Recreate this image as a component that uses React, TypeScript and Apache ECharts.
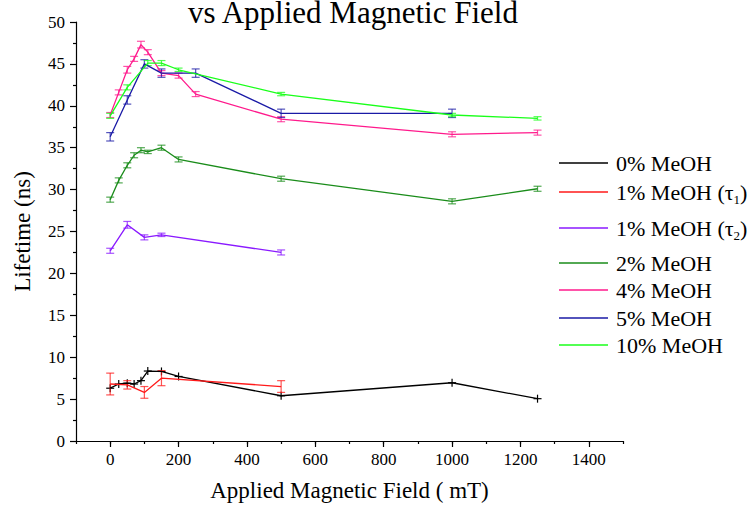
import React, { useEffect, useRef } from "react";
import * as echarts from "echarts";

const FONT = "Liberation Serif";

const seriesNames = ["0% MeOH", "1% MeOH (τ1)", "1% MeOH (τ2)", "2% MeOH", "4% MeOH", "5% MeOH", "10% MeOH"];
const colors = ["#000000", "#ff1a1a", "#8a1aff", "#1a8c1a", "#ff1a8c", "#1a1aa6", "#1aff1a"];

const x0 = [0, 25, 50, 70, 90, 110, 150, 200, 500, 1000, 1250];
const y0 = [6.3, 6.8, 6.9, 6.8, 7.2, 8.35, 8.3, 7.7, 5.4, 6.95, 5.05];

const x1 = [0, 50, 100, 150, 500];
const y1 = [6.8, 6.7, 5.8, 7.5, 6.5];
const e1 = [1.3, 0.5, 0.7, 0.9, 0.7];

const x1b = [0, 50, 100, 150, 500];
const y1b = [22.7, 25.8, 24.3, 24.6, 22.5];
const e1b = [0.3, 0.4, 0.3, 0.2, 0.3];

const x2 = [0, 25, 50, 70, 90, 110, 150, 200, 500, 1000, 1250];
const y2 = [28.8, 31.1, 32.9, 34.1, 34.7, 34.5, 35.0, 33.6, 31.3, 28.6, 30.1];
const e2 = [0.3, 0.3, 0.3, 0.3, 0.3, 0.2, 0.3, 0.3, 0.3, 0.3, 0.3];

const x4 = [0, 25, 50, 70, 90, 110, 150, 200, 250, 500, 1000, 1250];
const y4 = [38.9, 41.6, 44.3, 45.6, 47.3, 46.4, 43.9, 43.6, 41.4, 38.4, 36.6, 36.8];
const e4 = [0.3, 0.3, 0.4, 0.3, 0.4, 0.3, 0.3, 0.3, 0.3, 0.3, 0.3, 0.3];

const x5 = [0, 50, 100, 150, 250, 500, 1000];
const y5 = [36.3, 40.7, 45.0, 43.9, 43.9, 39.1, 39.1];
const e5 = [0.5, 0.5, 0.5, 0.5, 0.5, 0.5, 0.5];

const x10 = [0, 50, 110, 150, 200, 500, 1000, 1250];
const y10 = [38.8, 42.2, 45.1, 45.1, 44.3, 41.4, 38.9, 38.5];
const e10 = [0.3, 0.3, 0.3, 0.3, 0.2, 0.2, 0.2, 0.2];

const xMajorTicks = [0, 200, 400, 600, 800, 1000, 1200, 1400];
const legendRowsY = [163, 192, 228, 263, 290, 318, 345];

function pairs(xs: number[], ys: number[]) {
  return xs.map((x, i) => [x, ys[i]]);
}
function errData(xs: number[], ys: number[], es: number[]) {
  return xs.map((x, i) => [x, ys[i] - es[i], ys[i] + es[i]]);
}

function errorBarSeries(color: string, data: number[][]) {
  return {
    type: "custom",
    silent: true,
    data,
    renderItem: (params: any, api: any) => {
      const x = api.value(0);
      const p1 = api.coord([x, api.value(1)]);
      const p2 = api.coord([x, api.value(2)]);
      const w = 4;
      const style = { stroke: color, lineWidth: 1.2, opacity: 0.75 };
      return {
        type: "group",
        children: [
          { type: "line", shape: { x1: p1[0], y1: p1[1], x2: p2[0], y2: p2[1] }, style },
          { type: "line", shape: { x1: p1[0] - w, y1: p1[1], x2: p1[0] + w, y2: p1[1] }, style },
          { type: "line", shape: { x1: p2[0] - w, y1: p2[1], x2: p2[0] + w, y2: p2[1] }, style },
        ],
      };
    },
  };
}

function plusSeries(color: string, data: number[][]) {
  return {
    type: "custom",
    silent: true,
    data,
    renderItem: (params: any, api: any) => {
      const p = api.coord([api.value(0), api.value(1)]);
      const s = 4;
      const style = { stroke: color, lineWidth: 1.2 };
      return {
        type: "group",
        children: [
          { type: "line", shape: { x1: p[0] - s, y1: p[1], x2: p[0] + s, y2: p[1] }, style },
          { type: "line", shape: { x1: p[0], y1: p[1] - s, x2: p[0], y2: p[1] + s }, style },
        ],
      };
    },
  };
}

function lineSeries(name: string, color: string, data: number[][]) {
  return {
    name,
    type: "line",
    data,
    showSymbol: false,
    symbol: "none",
    lineStyle: { color, width: 1.3 },
    itemStyle: { color },
    z: 2,
  };
}

export default function App() {
  const ref = useRef<HTMLDivElement>(null);
  useEffect(() => {
    if (!ref.current) return;
    const chart = echarts.init(ref.current, null, { renderer: "svg" });

    const legendLabels = [
      "{a|0% MeOH}",
      "{a|1% MeOH (τ}{s|1}{a|)}",
      "{a|1% MeOH (τ}{s|2}{a|)}",
      "{a|2% MeOH}",
      "{a|4% MeOH}",
      "{a|5% MeOH}",
      "{a|10% MeOH}",
    ];

    const graphics: any[] = [
      {
        type: "text",
        x: 353,
        y: 28,
        style: {
          text: "vs Applied Magnetic Field",
          fontFamily: FONT,
          fontSize: 31,
          fill: "#000",
          textAlign: "center",
          textVerticalAlign: "bottom",
        },
      },
    ];
    legendLabels.forEach((lab, i) => {
      const y = legendRowsY[i];
      graphics.push({
        type: "line",
        shape: { x1: 559, y1: y, x2: 608, y2: y },
        style: { stroke: colors[i], lineWidth: 1.3 },
      });
      graphics.push({
        type: "text",
        x: 616,
        y: y,
        style: {
          text: lab,
          fill: "#000",
          textVerticalAlign: "middle",
          rich: {
            a: { fontFamily: FONT, fontSize: 22, color: "#000", lineHeight: 24 },
            s: { fontFamily: FONT, fontSize: 13, color: "#000", padding: [14, 0, 0, 0], lineHeight: 24 },
          },
        },
      });
    });

    const axisLineStyle = { color: "#000", width: 1.2 };

    const option: any = {
      animation: false,
      backgroundColor: "#ffffff",
      textStyle: { fontFamily: FONT },
      grid: { left: 76, right: 126, top: 22, bottom: 67, containLabel: false },
      xAxis: [
        {
          type: "value",
          min: -100,
          max: 1500,
          interval: 100,
          name: "Applied Magnetic Field ( mT)",
          nameLocation: "middle",
          nameGap: 38,
          nameTextStyle: { fontFamily: FONT, fontSize: 23, color: "#000" },
          axisLine: { show: true, onZero: false, lineStyle: axisLineStyle },
          axisTick: { show: true, length: 3, inside: false, lineStyle: axisLineStyle },
          axisLabel: {
            customValues: xMajorTicks,
            formatter: (v: number) => String(v),
            fontFamily: FONT,
            fontSize: 17,
            color: "#000",
            margin: 10,
          },
          splitLine: { show: false },
        },
        {
          type: "value",
          min: -100,
          max: 1500,
          position: "bottom",
          axisLine: { show: false },
          axisTick: { show: true, length: 6, customValues: xMajorTicks, lineStyle: axisLineStyle },
          axisLabel: { show: false },
          splitLine: { show: false },
        },
      ],
      yAxis: {
        type: "value",
        min: 0,
        max: 50,
        interval: 5,
        name: "Lifetime (ns)",
        nameLocation: "middle",
        nameGap: 42,
        nameTextStyle: { fontFamily: FONT, fontSize: 23, color: "#000" },
        axisLine: { show: true, onZero: false, lineStyle: axisLineStyle },
        axisTick: { show: true, length: 6, lineStyle: axisLineStyle },
        minorTick: { show: true, splitNumber: 2, length: 3, lineStyle: { color: "#000", width: 1.2 } },
        axisLabel: { fontFamily: FONT, fontSize: 17, color: "#000", margin: 11, formatter: (v: number) => String(v) },
        splitLine: { show: false },
        minorSplitLine: { show: false },
      },
      series: [
        lineSeries(seriesNames[0], colors[0], pairs(x0, y0)),
        plusSeries(colors[0], pairs(x0, y0)),
        lineSeries(seriesNames[1], colors[1], pairs(x1, y1)),
        errorBarSeries(colors[1], errData(x1, y1, e1)),
        lineSeries(seriesNames[2], colors[2], pairs(x1b, y1b)),
        errorBarSeries(colors[2], errData(x1b, y1b, e1b)),
        lineSeries(seriesNames[3], colors[3], pairs(x2, y2)),
        errorBarSeries(colors[3], errData(x2, y2, e2)),
        lineSeries(seriesNames[4], colors[4], pairs(x4, y4)),
        errorBarSeries(colors[4], errData(x4, y4, e4)),
        lineSeries(seriesNames[5], colors[5], pairs(x5, y5)),
        errorBarSeries(colors[5], errData(x5, y5, e5)),
        lineSeries(seriesNames[6], colors[6], pairs(x10, y10)),
        errorBarSeries(colors[6], errData(x10, y10, e10)),
      ],
      graphic: graphics,
    };
    chart.setOption(option);
    return () => chart.dispose();
  }, []);

  return (
    <div
      ref={ref}
      style={{ position: "fixed", left: 0, top: 0, width: 749, height: 508, background: "#fff" }}
    />
  );
}
